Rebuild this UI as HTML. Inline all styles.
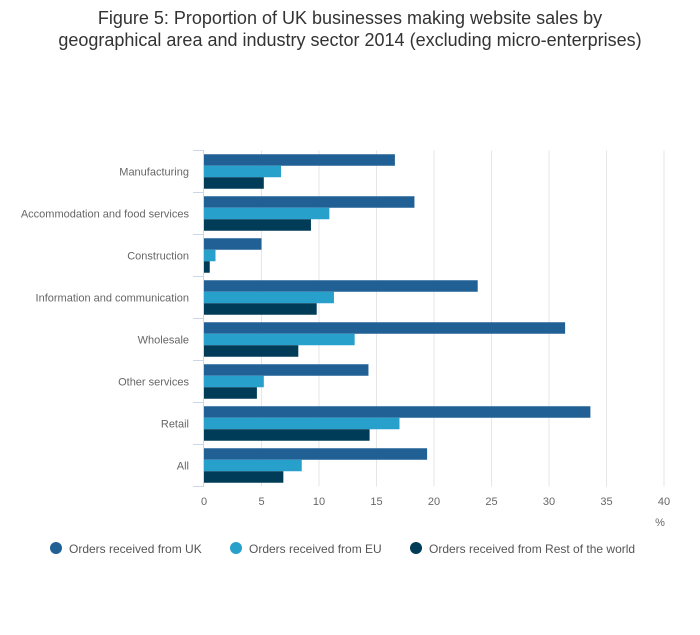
<!DOCTYPE html>
<html><head><meta charset="utf-8"><style>
body{margin:0;background:#fff;font-family:"Liberation Sans",sans-serif}
</style></head><body>
<svg id="c" width="700" height="635" style="display:block">
<text x="350" y="24" text-anchor="middle" font-size="18" fill="#333">Figure 5: Proportion of UK businesses making website sales by</text>
<text x="350" y="46" text-anchor="middle" font-size="18" fill="#333">geographical area and industry sector 2014 (excluding micro-enterprises)</text>
<g id="grid"></g><g id="bars"></g><g id="axes"></g>
<text x="660" y="526" text-anchor="middle" font-size="11" fill="#666">%</text>
<g>
<g><circle cx="56" cy="548" r="6" fill="#206095"/><text x="69" y="553" font-size="12" fill="#555">Orders received from UK</text></g>
<g><circle cx="236" cy="548" r="6" fill="#27a0cc"/><text x="249" y="553" font-size="12" fill="#555">Orders received from EU</text></g>
<g><circle cx="416" cy="548" r="6" fill="#003c57"/><text x="429" y="553" font-size="12" fill="#555">Orders received from Rest of the world</text></g>
</g>
</svg>
<script>
const categories=["Manufacturing","Accommodation and food services","Construction","Information and communication","Wholesale","Other services","Retail","All"];
const ukValues=[16.6,18.3,5.0,23.8,31.4,14.3,33.6,19.4];
const euValues=[6.7,10.9,1.0,11.3,13.1,5.2,17.0,8.5];
const rowValues=[5.2,9.3,0.5,9.8,8.2,4.6,14.4,6.9];
const xTicks=[0,5,10,15,20,25,30,35,40];
const NS="http://www.w3.org/2000/svg";
const x0=204,pxPer=11.5,plotTop=150.5,band=42;
function xs(v){return x0+v*pxPer;}
function mk(t,a,p){const e=document.createElementNS(NS,t);for(const k in a)e.setAttribute(k,a[k]);p.appendChild(e);return e;}
const grid=document.getElementById('grid'),bars=document.getElementById('bars'),axes=document.getElementById('axes');
xTicks.forEach(t=>{
 if(t>0){const l=mk('line',{x1:xs(t),x2:xs(t),y1:plotTop,y2:plotTop+band*categories.length,stroke:'#e6e6e6'},grid);
 
 }
 const tx=mk('text',{x:xs(t),y:505,'text-anchor':'middle','font-size':11,fill:'#666'},axes);tx.textContent=t;
 
 
});
const series=[[ukValues,'#206095','uk'],[euValues,'#27a0cc','eu'],[rowValues,'#003c57','row']];
const bh=11.5;
categories.forEach((c,i)=>{
 const y=plotTop+i*band;
 series.forEach((s,j)=>{
  const r=mk('rect',{x:x0,y:y+3.75+j*bh,width:s[0][i]*pxPer,height:bh,fill:s[1]},bars);
  
  
 });
 const t=mk('text',{x:189,y:y+band/2+4,'text-anchor':'end','font-size':11,fill:'#666'},axes);t.textContent=c;
 
 
});
for(let i=0;i<=categories.length;i++){
 const y=plotTop+i*band;
 mk('line',{x1:193,x2:204,y1:y,y2:y,stroke:'#ccd6eb'},axes);
}
const ax=mk('line',{x1:203.5,x2:203.5,y1:plotTop,y2:plotTop+band*categories.length,stroke:'#ccd6eb'},axes);


</script>
</body></html>
